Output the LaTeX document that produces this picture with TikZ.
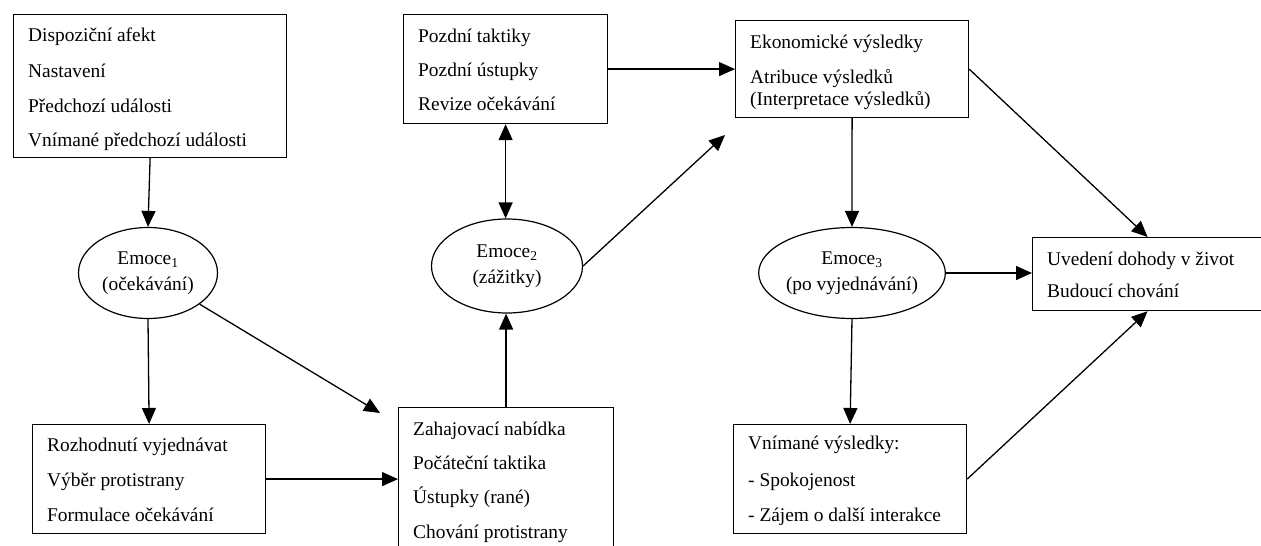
\documentclass[tikz,border=0pt]{standalone}
\usepackage{fontspec}
\setmainfont{Liberation Serif}
\usetikzlibrary{shapes.geometric, arrows.meta}
\begin{document}
\begin{tikzpicture}[x=1pt,y=-1pt,
  box/.style={draw, line width=1.2pt, rectangle, inner sep=0pt, anchor=north west},
  emo/.style={draw, line width=1.2pt, ellipse, inner sep=0pt, align=center, font=\fontsize{19.4}{26}\selectfont},
  lbl/.style={anchor=base west, inner sep=0pt, font=\fontsize{19.4}{23}\selectfont},
  conn/.style={line width=1.3pt, -{Triangle[length=16pt,width=14pt]}},
  dconn/.style={line width=1.3pt, {Triangle[length=16pt,width=14pt]}-{Triangle[length=16pt,width=14pt]}},
]
\useasboundingbox (0,0) rectangle (1261,546);

% boxes
\node[box, minimum width=273pt, minimum height=143pt] (A) at (13,14) {};
\node[box, minimum width=233pt, minimum height=109pt] (B) at (32,424) {};
\node[box, minimum width=215pt, minimum height=160pt] (C) at (398,407) {};
\node[box, minimum width=204pt, minimum height=109pt] (D) at (403,14) {};
\node[box, minimum width=233pt, minimum height=97pt] (E) at (735,20) {};
\node[box, minimum width=230pt, minimum height=73pt] (F) at (1032,237) {};
\node[box, minimum width=233pt, minimum height=109pt] (G) at (733,424) {};

% box texts
\node[lbl] (A1) at (28,41.5) {Dispoziční afekt};
\node[lbl] (A2) at (28,77.5) {Nastavení};
\node[lbl] (A3) at (28,112.5) {Předchozí události};
\node[lbl] (A4) at (28,146.5) {Vnímané předchozí události};

\node[lbl] (B1) at (47,451.5) {Rozhodnutí vyjednávat};
\node[lbl] (B2) at (47,486.5) {Výběr protistrany};
\node[lbl] (B3) at (47,521.5) {Formulace očekávání};

\node[lbl] (C1) at (413,435.5) {Zahajovací nabídka};
\node[lbl] (C2) at (413,469.5) {Počáteční taktika};
\node[lbl] (C3) at (413,503.5) {Ústupky (rané)};
\node[lbl] (C4) at (413,538.5) {Chování protistrany};

\node[lbl] (D1) at (418,42.5) {Pozdní taktiky};
\node[lbl] (D2) at (418,76.5) {Pozdní ústupky};
\node[lbl] (D3) at (418,110.5) {Revize očekávání};

\node[lbl] (E1) at (750,48.5) {Ekonomické výsledky};
\node[lbl] (E2) at (750,83.5) {Atribuce výsledků};
\node[lbl] (E3) at (750,105.5) {(Interpretace výsledků)};

\node[lbl] (F1) at (1047,265.5) {Uvedení dohody v život};
\node[lbl] (F2) at (1047,297.5) {Budoucí chování};

\node[lbl] (G1) at (748,449.5) {Vnímané výsledky:};
\node[lbl] (G2) at (748,486.5) {- Spokojenost};
\node[lbl] (G3) at (748,521.5) {- Zájem o další interakce};

% ellipses
\node[emo, minimum width=139pt, minimum height=91pt] (e1) at (148,273) {Emoce\textsubscript{1}\\(očekávání)};
\node[emo, minimum width=151pt, minimum height=94pt] (e2) at (507,266) {Emoce\textsubscript{2}\\(zážitky)};
\node[emo, minimum width=152pt, minimum height=91pt] (e3) at (852,273) {Emoce\textsubscript{3}\\(po vyjednávání)};

% free ends
\coordinate (c1) at (380,413);
\coordinate (c2) at (725,135);

% connectors
\draw[conn] (A.south) -- (e1.north);
\draw[conn] (e1.south) -- (B.north);
\draw[conn] (e1) -- (c1);
\draw[conn] (B.east) -- (B.east -| C.west);
\draw[conn] (C.north) -- (C.north |- e2.south);
\draw[dconn] (D.south) -- (D.south |- e2.north);
\draw[conn] (e2.east) -- (c2);
\draw[conn] (D.east) -- (D.east -| E.west);
\draw[conn] (E.south) -- (e3.north);
\draw[conn] (E.east) -- (F.north);
\draw[conn] (e3.east) -- (e3.east -| F.west);
\draw[conn] (e3.south) -- (G.north);
\draw[conn] (G.east) -- (F.south);
\end{tikzpicture}
\end{document}
